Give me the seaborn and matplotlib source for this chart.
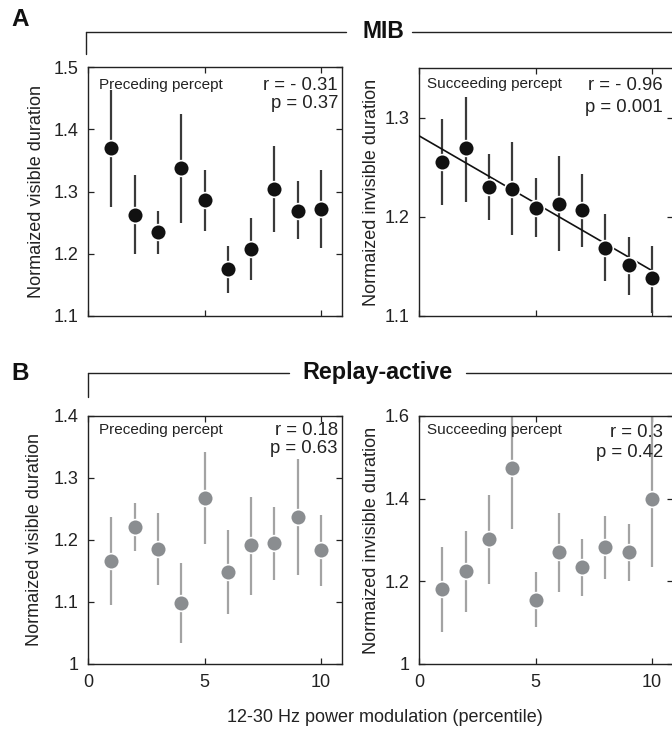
import numpy as np
import pandas as pd
import matplotlib
matplotlib.use("Agg")
import matplotlib.pyplot as plt
import seaborn as sns
from matplotlib.lines import Line2D

# ---------------- data ----------------
percentile = [1, 2, 3, 4, 5, 6, 7, 8, 9, 10]

# MIB, preceding percept (normalized visible duration)
mib_pre_mean = [1.370, 1.263, 1.235, 1.337, 1.286, 1.175, 1.207, 1.304, 1.268, 1.272]
mib_pre_low = [1.275, 1.200, 1.200, 1.250, 1.236, 1.137, 1.158, 1.235, 1.223, 1.209]
mib_pre_high = [1.463, 1.327, 1.269, 1.425, 1.335, 1.212, 1.257, 1.373, 1.317, 1.335]

# MIB, succeeding percept (normalized invisible duration)
mib_suc_mean = [1.255, 1.269, 1.230, 1.228, 1.209, 1.213, 1.207, 1.169, 1.151, 1.138]
mib_suc_low = [1.212, 1.215, 1.197, 1.182, 1.180, 1.166, 1.170, 1.135, 1.121, 1.103]
mib_suc_high = [1.299, 1.321, 1.263, 1.275, 1.239, 1.261, 1.243, 1.203, 1.180, 1.171]

# Replay-active, preceding percept
rep_pre_mean = [1.166, 1.221, 1.186, 1.098, 1.268, 1.149, 1.192, 1.195, 1.237, 1.184]
rep_pre_low = [1.095, 1.183, 1.128, 1.034, 1.194, 1.081, 1.112, 1.135, 1.144, 1.126]
rep_pre_high = [1.237, 1.259, 1.243, 1.163, 1.342, 1.216, 1.270, 1.254, 1.330, 1.240]

# Replay-active, succeeding percept
rep_suc_mean = [1.181, 1.224, 1.302, 1.474, 1.155, 1.270, 1.234, 1.282, 1.271, 1.400]
rep_suc_low = [1.077, 1.125, 1.194, 1.327, 1.089, 1.173, 1.164, 1.205, 1.201, 1.234]
rep_suc_high = [1.284, 1.322, 1.409, 1.620, 1.222, 1.365, 1.302, 1.358, 1.339, 1.620]

x_ticks = [0, 5, 10]
x_ticklabels = ["0", "5", "10"]
a_pre_yticks = [1.1, 1.2, 1.3, 1.4, 1.5]
a_pre_yticklabels = ["1.1", "1.2", "1.3", "1.4", "1.5"]
a_suc_yticks = [1.1, 1.2, 1.3]
a_suc_yticklabels = ["1.1", "1.2", "1.3"]
b_pre_yticks = [1.0, 1.1, 1.2, 1.3, 1.4]
b_pre_yticklabels = ["1", "1.1", "1.2", "1.3", "1.4"]
b_suc_yticks = [1.0, 1.2, 1.4, 1.6]
b_suc_yticklabels = ["1", "1.2", "1.4", "1.6"]

# ---------------- style ----------------
sns.set_style("ticks")
plt.rcParams["font.family"] = ["Liberation Sans", "DejaVu Sans"]
plt.rcParams["axes.linewidth"] = 1.0
plt.rcParams["axes.edgecolor"] = "#222222"

W, H = 672, 729
fig = plt.figure(figsize=(W / 100, H / 100), dpi=100)


def ax_at(left, top, right, bottom):
    return fig.add_axes([left / W, 1 - bottom / H, (right - left) / W, (bottom - top) / H])


ax_a1 = ax_at(88, 67, 342, 316)
ax_a2 = ax_at(419, 68, 673, 316)
ax_b1 = ax_at(88, 416, 342, 664)
ax_b2 = ax_at(419, 416, 673, 664)

BLACK_DOT = "#111111"
BLACK_ERR = "#3a3a3a"
GRAY_DOT = "#8a8d90"
GRAY_ERR = "#a3a3a3"

TICK_FS = 13
LAB_FS = 13


def panel(ax, mean, low, high, dot, ecol, ylim, yticks, yticklabels, ylabel, show_x, ylab_x):
    df = pd.DataFrame({"x": percentile, "y": mean, "lo": low, "hi": high})
    yerr = np.vstack([df["y"] - df["lo"], df["hi"] - df["y"]])
    ax.errorbar(df["x"], df["y"], yerr=yerr, fmt="none", ecolor=ecol,
                elinewidth=1.6, capsize=0, zorder=2)
    sns.scatterplot(data=df, x="x", y="y", color=dot, s=128, edgecolor="white",
                    linewidth=1.2, ax=ax, zorder=4, legend=False)
    ax.set_xlim(0, 10.9)
    ax.set_ylim(*ylim)
    ax.set_xticks(x_ticks)
    ax.set_yticks(yticks)
    ax.set_yticklabels(yticklabels)
    if show_x:
        ax.set_xticklabels(x_ticklabels)
    else:
        ax.set_xticklabels([])
    ax.tick_params(direction="in", top=True, right=True, length=4, width=0.9,
                   labelsize=TICK_FS, pad=7, colors="#222222", labelcolor="#222222")
    ax.set_xlabel("")
    ax.set_ylabel(ylabel, fontsize=LAB_FS, color="#222222")
    ax.yaxis.set_label_coords(ylab_x, 0.5)
    for s in ax.spines.values():
        s.set_visible(True)


panel(ax_a1, mib_pre_mean, mib_pre_low, mib_pre_high, BLACK_DOT, BLACK_ERR, (1.1, 1.5),
      a_pre_yticks, a_pre_yticklabels, "Normaized visible duration", False, -0.169)
panel(ax_a2, mib_suc_mean, mib_suc_low, mib_suc_high, BLACK_DOT, BLACK_ERR, (1.1, 1.35),
      a_suc_yticks, a_suc_yticklabels, "Normaized invisible duration", False, -0.154)
panel(ax_b1, rep_pre_mean, rep_pre_low, rep_pre_high, GRAY_DOT, GRAY_ERR, (1.0, 1.4),
      b_pre_yticks, b_pre_yticklabels, "Normaized visible duration", True, -0.177)
panel(ax_b2, rep_suc_mean, rep_suc_low, rep_suc_high, GRAY_DOT, GRAY_ERR, (1.0, 1.6),
      b_suc_yticks, b_suc_yticklabels, "Normaized invisible duration", True, -0.154)

# regression line for MIB succeeding percept
coef = np.polyfit(percentile, mib_suc_mean, 1)
fit_x = np.array([0.0, 10.0])
sns.lineplot(x=fit_x, y=np.polyval(coef, fit_x), color="#111111", linewidth=1.2,
             ax=ax_a2, zorder=3)


# in-panel text
def txt(ax, x, y, s, ha, size):
    ax.text(x, y, s, transform=ax.transAxes, ha=ha, va="center", fontsize=size,
            color="#222222", zorder=5)


SMALL = 11
RP = 13.3
txt(ax_a1, 0.043, 0.928, "Preceding percept", "left", SMALL)
txt(ax_a1, 0.984, 0.924, "r = - 0.31", "right", RP)
txt(ax_a1, 0.984, 0.855, "p = 0.37", "right", RP)

txt(ax_a2, 0.031, 0.935, "Succeeding percept", "left", SMALL)
txt(ax_a2, 0.961, 0.931, "r = - 0.96", "right", RP)
txt(ax_a2, 0.961, 0.842, "p = 0.001", "right", RP)

txt(ax_b1, 0.043, 0.944, "Preceding percept", "left", SMALL)
txt(ax_b1, 0.984, 0.941, "r = 0.18", "right", RP)
txt(ax_b1, 0.984, 0.867, "p = 0.63", "right", RP)

txt(ax_b2, 0.031, 0.944, "Succeeding percept", "left", SMALL)
txt(ax_b2, 0.961, 0.935, "r = 0.3", "right", RP)
txt(ax_b2, 0.961, 0.851, "p = 0.42", "right", RP)


# section headers
def fx(px):
    return px / W


def fy(py):
    return 1 - py / H


def hline(x1, x2, y):
    fig.add_artist(Line2D([fx(x1), fx(x2)], [fy(y), fy(y)], transform=fig.transFigure,
                          color="#222222", linewidth=1.0))


def vline(x, y1, y2):
    fig.add_artist(Line2D([fx(x), fx(x)], [fy(y1), fy(y2)], transform=fig.transFigure,
                          color="#222222", linewidth=1.0))


hline(86, 346, 32)
hline(412, 672, 32)
vline(86, 32, 54)
fig.text(fx(383), fy(31), "MIB", ha="center", va="center", fontsize=16.5,
         fontweight="bold", color="#111111")
fig.text(fx(11), fy(19), "A", ha="left", va="center", fontsize=17.5,
         fontweight="bold", color="#111111")

hline(88, 289, 373)
hline(466, 672, 373)
vline(88, 373, 397)
fig.text(fx(377), fy(372), "Replay-active", ha="center", va="center", fontsize=16.8,
         fontweight="bold", color="#111111")
fig.text(fx(11), fy(374), "B", ha="left", va="center", fontsize=17.5,
         fontweight="bold", color="#111111")

fig.text(fx(385), fy(718), "12-30 Hz power modulation (percentile)", ha="center",
         va="center", fontsize=LAB_FS, color="#222222")

fig.savefig("out.png", dpi=100)
